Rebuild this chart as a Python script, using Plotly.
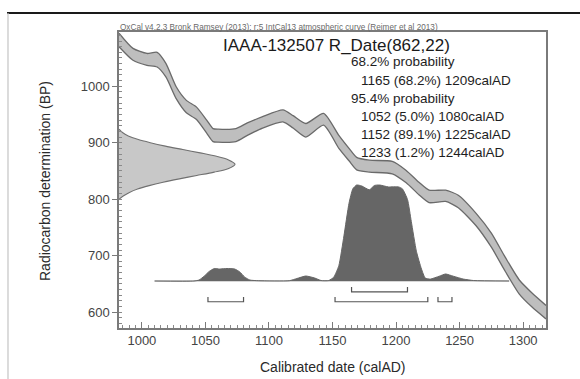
import plotly.graph_objects as go

# ---------------- data ----------------
# IntCal13 calibration band (calAD, upper / lower edge in BP)
cal_year = [982, 993, 1004, 1012, 1019, 1027, 1035, 1043, 1051, 1056, 1060, 1074, 1083, 1095,
            1111, 1119, 1129, 1143, 1155, 1163, 1169, 1179, 1197, 1208, 1218, 1226, 1239, 1249,
            1263, 1275, 1286, 1297, 1307, 1318]
cal_upper = [1094, 1067, 1058, 1060, 1040, 999, 975, 963, 940, 925, 924, 925, 935, 946,
             958, 948, 934, 952, 913, 890, 874, 869, 867, 851, 830, 816, 816, 807,
             775, 740, 697, 657, 634, 612]
cal_lower = [1070, 1046, 1037, 1034, 1016, 978, 953, 941, 917, 902, 901, 902, 913, 926,
             937, 926, 910, 931, 890, 868, 852, 848, 845, 829, 808, 794, 796, 785,
             753, 715, 672, 632, 609, 588]

rd_bp = [800, 806, 812, 818, 824, 830, 836, 842, 848, 854, 862, 870, 876, 882, 888, 894,
         900, 906, 912, 918, 924]
rd_dens = [0.0, 0.04, 0.09, 0.16, 0.26, 0.38, 0.52, 0.67, 0.82, 0.94, 1.0, 0.94, 0.84, 0.70,
           0.55, 0.40, 0.27, 0.16, 0.08, 0.03, 0.0]

# Calibrated probability distribution (calAD, relative probability)
dist_year = [1010, 1041, 1045, 1049, 1053, 1057, 1061, 1067, 1073, 1077, 1081, 1085, 1092,
             1116, 1122, 1129, 1136, 1141, 1147, 1151, 1155, 1159, 1163, 1166, 1169, 1173,
             1179, 1183, 1187, 1194, 1202, 1205, 1209, 1212, 1216, 1220, 1223, 1227, 1234,
             1239, 1245, 1253, 1261, 1289]
dist_prob = [0, 0, 0.01, 0.05, 0.10, 0.13, 0.125, 0.13, 0.125, 0.095, 0.04, 0.01, 0.003,
             0.003, 0.026, 0.052, 0.031, 0.005, 0.005, 0.04, 0.16, 0.47, 0.81, 0.96, 1.0, 0.99,
             0.95, 0.995, 1.0, 0.98, 0.98, 0.96, 0.85, 0.62, 0.31, 0.125, 0.03, 0.02, 0.05,
             0.073, 0.05, 0.02, 0.005, 0]
baseline_range = [1010, 1289]

# Ranges (calAD)
range68 = [(1165, 1209)]
range95 = [(1052, 1080), (1152, 1225), (1233, 1244)]

title_text = "IAAA-132507 R_Date(862,22)"
credit_text = "OxCal v4.2.3 Bronk Ramsey (2013); r:5 IntCal13 atmospheric curve (Reimer et al 2013)"
info_lines = [
    ("68.2% probability", 0),
    ("1165 (68.2%) 1209calAD", 1),
    ("95.4% probability", 0),
    ("1052 (5.0%) 1080calAD", 1),
    ("1152 (89.1%) 1225calAD", 1),
    ("1233 (1.2%) 1244calAD", 1),
]
x_ticks = [1000, 1050, 1100, 1150, 1200, 1250, 1300]
y_ticks = [600, 700, 800, 900, 1000]

# ---------------- layout constants ----------------
W, H = 580, 379
L, R, T, B = 119, 546, 32, 328
FONT = "Liberation Sans, Arial, sans-serif"


def px(x):
    return (x - L) / (R - L)


def py(y):
    return (B - y) / (B - T)


BAND_FILL = "#bebebe"
BAND_EDGE = "#6a6a6a"
DIST_FILL = "#666666"
BR_COLOR = "#555555"
LEVEL68, LEVEL95, TICK_H = 636, 618.5, 8.5

fig = go.Figure()

# calibration band
fig.add_trace(go.Scatter(x=cal_year, y=cal_lower, mode="lines",
                         line=dict(color=BAND_EDGE, width=1.3, shape="spline", smoothing=0.6),
                         hoverinfo="skip", showlegend=False))
fig.add_trace(go.Scatter(x=cal_year, y=cal_upper, mode="lines", fill="tonexty",
                         fillcolor=BAND_FILL,
                         line=dict(color=BAND_EDGE, width=1.3, shape="spline", smoothing=0.6),
                         hoverinfo="skip", showlegend=False))

# radiocarbon measurement on y axis
fig.add_trace(go.Scatter(x=rd_dens, y=rd_bp, xaxis="x2", yaxis="y", mode="lines",
                         fill="tozerox", fillcolor="#c8c8c8",
                         line=dict(color="#707070", width=1.1, shape="spline", smoothing=0.8),
                         hoverinfo="skip", showlegend=False))

# baseline
fig.add_trace(go.Scatter(x=baseline_range, y=[0, 0], xaxis="x", yaxis="y2", mode="lines",
                         line=dict(color="#b0b0b0", width=1.2), hoverinfo="skip",
                         showlegend=False))
# calibrated distribution
fig.add_trace(go.Scatter(x=dist_year, y=dist_prob, xaxis="x", yaxis="y2", mode="lines",
                         fill="tozeroy", fillcolor=DIST_FILL,
                         line=dict(color=DIST_FILL, width=1, shape="spline", smoothing=0.5),
                         hoverinfo="skip", showlegend=False))

# range brackets
for ranges, lev in ((range68, LEVEL68), (range95, LEVEL95)):
    for a, b in ranges:
        fig.add_trace(go.Scatter(x=[a, a, b, b], y=[lev + TICK_H, lev, lev, lev + TICK_H],
                                 mode="lines", line=dict(color=BR_COLOR, width=1.2),
                                 hoverinfo="skip", showlegend=False))

axis_line = dict(showline=True, linecolor="#7a7a7a", linewidth=1.5, mirror=True,
                 showgrid=False, zeroline=False)

fig.update_layout(
    width=W, height=H,
    margin=dict(l=L, r=W - R, t=T, b=H - B),
    paper_bgcolor="white", plot_bgcolor="white",
    template="none",
    font=dict(family=FONT, color="#333333"),
    xaxis=dict(range=[982, 1318], tickvals=x_ticks, ticks="inside", ticklen=6,
               tickcolor="#7a7a7a", tickwidth=1,
               minor=dict(dtick=5, tick0=1000, ticks="inside", ticklen=3,
                          tickcolor="#8a8a8a", tickwidth=1),
               tickfont=dict(size=13, color="#444444", family=FONT), **axis_line),
    yaxis=dict(range=[572, 1096], tickvals=y_ticks, ticks="outside", ticklen=5,
               tickcolor="#7a7a7a", tickwidth=1,
               minor=dict(dtick=10, tick0=600, ticks="inside", ticklen=3,
                          tickcolor="#8a8a8a", tickwidth=1),
               tickfont=dict(size=13, color="#444444", family=FONT), **axis_line),
    xaxis2=dict(range=[0, 3.68], overlaying="x", anchor="y", visible=False),
    yaxis2=dict(range=[-0.4896, 2.5937], overlaying="y", anchor="x", visible=False),
)

ann = []
ann.append(dict(text=credit_text, x=px(118), y=py(27), xref="paper", yref="paper",
                xanchor="left", yanchor="middle", showarrow=False,
                font=dict(size=8.2, color="#6a6a6a", family=FONT)))
ann.append(dict(text=title_text, x=px(221), y=py(45), xref="paper", yref="paper",
                xanchor="left", yanchor="middle", showarrow=False,
                font=dict(size=17, color="#1a1a1a", family=FONT)))
line_y = [61.7, 80, 98.3, 116.7, 134.3, 152.7]
for (txt, ind), yy in zip(info_lines, line_y):
    ann.append(dict(text=txt, x=px(349 + 10 * ind), y=py(yy), xref="paper", yref="paper",
                    xanchor="left", yanchor="middle", showarrow=False,
                    font=dict(size=13.5, color="#1e1e1e", family=FONT)))
ann.append(dict(text="Calibrated date (calAD)", x=px(333), y=py(367), xref="paper",
                yref="paper", xanchor="center", yanchor="middle", showarrow=False,
                font=dict(size=14, color="#2a2a2a", family=FONT)))
ann.append(dict(text="Radiocarbon determination (BP)", x=px(45), y=py(181), xref="paper",
                yref="paper", xanchor="center", yanchor="middle", showarrow=False,
                textangle=-90, font=dict(size=14, color="#2a2a2a", family=FONT)))
fig.update_layout(annotations=ann)

# page borders of the scanned figure
fig.add_shape(type="line", xref="paper", yref="paper", x0=px(7), x1=px(580), y0=py(13),
              y1=py(13), line=dict(color="#1a1a1a", width=2))
fig.add_shape(type="line", xref="paper", yref="paper", x0=px(8), x1=px(8), y0=py(13),
              y1=py(379), line=dict(color="#c4c4c4", width=1.2))

fig.write_html("out.html")
